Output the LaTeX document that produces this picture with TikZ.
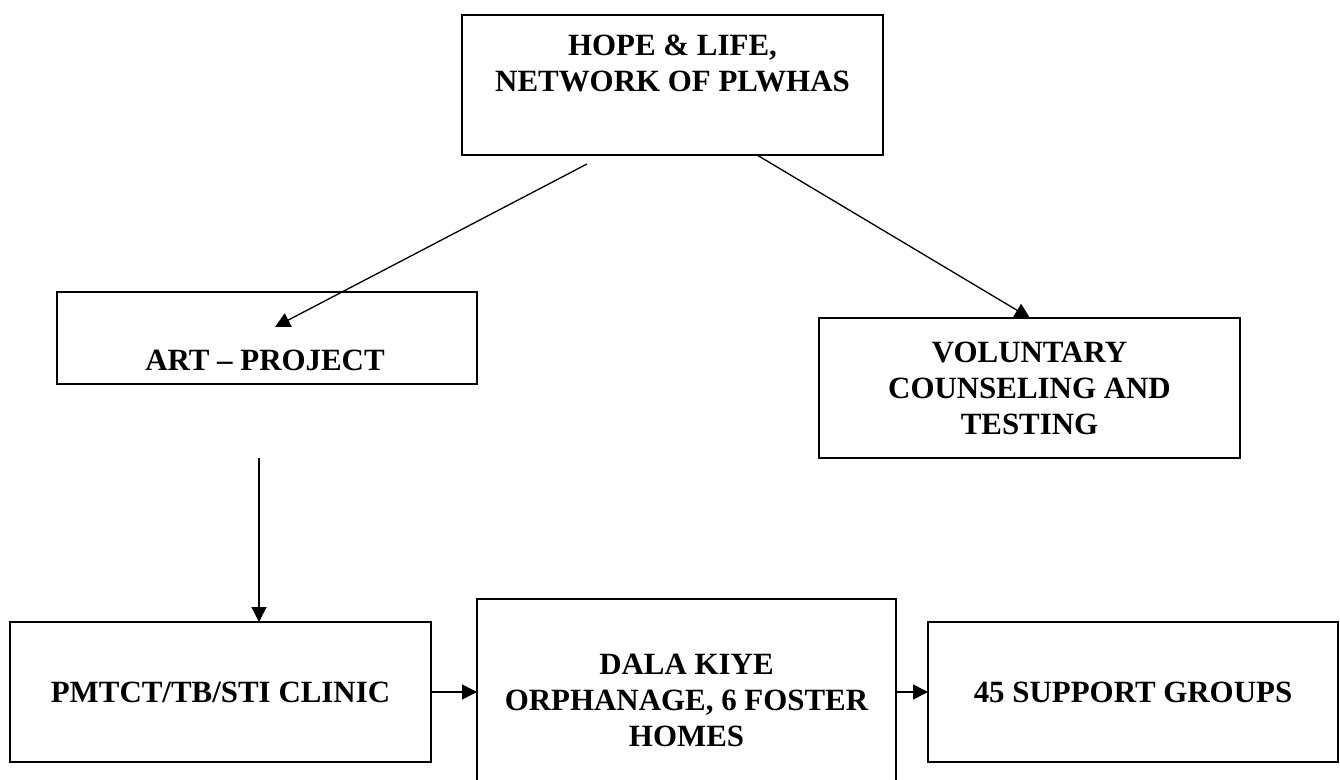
\documentclass[tikz,border=0pt]{standalone}
\usepackage{fontspec}
\setmainfont{Liberation Serif}
\usetikzlibrary{arrows.meta}
\tikzset{
  box/.style={draw, line width=1pt, rectangle, inner sep=0pt, outer sep=0pt, align=center},
  txt/.style={inner sep=0pt, outer sep=0pt, align=center, font=\fontsize{17.6}{20.5}\selectfont\bfseries},
  arr/.style={line width=0.75pt, -{Triangle[length=0.3cm,width=0.3cm]}}
}
\begin{document}
\begin{tikzpicture}[x=0.02cm, y=-0.02cm]
\useasboundingbox (0,0) rectangle (1340,780);
\clip (0,0) rectangle (1340,780);
% boxes
\node[box, minimum width=8.42cm, minimum height=2.8cm] (hope) at (672.5,85) {};
\node[txt] (hopetext) at (672.5,63.5) {HOPE \& LIFE,\\NETWORK OF PLWHAS};
\node[box, minimum width=8.4cm, minimum height=1.84cm] (art) at (267,338) {};
\node[txt] (arttext) at (265,360) {ART -- PROJECT};
\node[box, txt, draw, line width=1pt, minimum width=8.42cm, minimum height=2.8cm] (vct) at (1029.5,388) {VOLUNTARY\\COUNSELING AND\\TESTING};
\node[box, txt, draw, line width=1pt, minimum width=8.42cm, minimum height=2.8cm] (pmtct) at (220.5,692) {PMTCT/TB/STI CLINIC};
\node[box, txt, draw, line width=1pt, minimum width=8.38cm, minimum height=4.04cm] (dala) at (686.5,700) {DALA KIYE\\ORPHANAGE, 6 FOSTER\\HOMES};
\node[box, txt, draw, line width=1pt, minimum width=8.2cm, minimum height=2.8cm] (sup) at (1133,692) {45 SUPPORT GROUPS};
% free ends of connectors
\coordinate (a1) at (587,164);
\coordinate (a2) at (275,327);
\coordinate (b1) at (757,155);
\coordinate (b2) at (1030,318);
\coordinate (c1) at (259,458);
% connectors
\draw[arr] (a1) -- (a2);
\draw[arr] (b1) -- (b2);
\draw[arr] (c1) -- (c1 |- pmtct.north);
\draw[arr] (pmtct.east) -- (pmtct.east -| dala.west);
\draw[arr] (dala.east |- sup.west) -- (sup.west);
\end{tikzpicture}
\end{document}
